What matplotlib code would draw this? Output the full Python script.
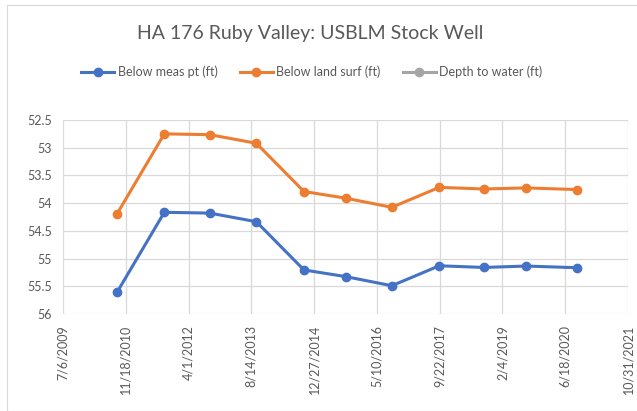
import datetime as dt
import matplotlib
matplotlib.use("Agg")
import matplotlib.pyplot as plt
import matplotlib.dates as mdates
from matplotlib.patches import Rectangle

plt.rcParams['font.family'] = ['Lato', 'DejaVu Sans']

# measurement dates and water levels (ft)
dates = [dt.date(2010, 9, 9), dt.date(2011, 9, 21), dt.date(2012, 9, 18),
         dt.date(2013, 9, 23), dt.date(2014, 10, 7), dt.date(2015, 9, 4),
         dt.date(2016, 9, 6), dt.date(2017, 9, 19), dt.date(2018, 9, 9),
         dt.date(2019, 8, 12), dt.date(2020, 9, 16)]
below_meas_pt = [55.61, 54.165, 54.18, 54.335, 55.205, 55.325, 55.49,
                 55.13, 55.16, 55.135, 55.165]
below_land_surf = [54.195, 52.75, 52.765, 52.92, 53.79, 53.91, 54.075,
                   53.715, 53.745, 53.725, 53.755]
depth_to_water = []

y_ticks = [52.5, 53, 53.5, 54, 54.5, 55, 55.5, 56]
x_start = dt.date(2009, 7, 6)
x_step = 500
n_steps = 9

blue = '#4472C4'
orange = '#ED7D31'
gray = '#A5A5A5'
text_c = '#595959'
grid_c = '#D9D9D9'

fig = plt.figure(figsize=(6.37, 4.11), dpi=100)
fig.patches.append(Rectangle((7 / 637, 0), 1, 1 - 5 / 411, transform=fig.transFigure,
                             fill=False, edgecolor='#D9D9D9', linewidth=0.8))

ax = fig.add_axes([63 / 637, 1 - 314 / 411, 565 / 637, 194 / 411])

ax.plot(dates, below_meas_pt, color=blue, lw=2.2, marker='o', ms=6,
        label='Below meas pt (ft)')
ax.plot(dates, below_land_surf, color=orange, lw=2.2, marker='o', ms=6,
        label='Below land surf (ft)')
ax.plot(depth_to_water, depth_to_water, color=gray, lw=2.2, marker='o', ms=6,
        label='Depth to water (ft)')

x_ticks = [x_start + dt.timedelta(days=x_step * i) for i in range(n_steps + 1)]
ax.set_xlim(mdates.date2num(x_ticks[0]), mdates.date2num(x_ticks[-1]))
ax.set_xticks(mdates.date2num(x_ticks))
ax.set_xticklabels([f"{d.month}/{d.day}/{d.year}" for d in x_ticks], rotation=90,
                   fontsize=9, color=text_c)

ax.set_ylim(56, 52.5)
ax.set_yticks(y_ticks)
ax.set_yticklabels([f"{v:g}" for v in y_ticks], fontsize=9, color=text_c)

ax.grid(True, color=grid_c, lw=0.9)
ax.set_axisbelow(True)
for s in ax.spines.values():
    s.set_visible(False)
ax.tick_params(length=0, pad=8)

fig.text(310 / 637, 1 - 33 / 411, 'HA 176 Ruby Valley: USBLM Stock Well',
         ha='center', va='center', fontsize=14, color=text_c)

fig.legend(loc='center', bbox_to_anchor=(312 / 637, 1 - 72 / 411), ncol=3,
           frameon=False, fontsize=9, labelcolor=text_c, handlelength=2.6,
           handletextpad=0.3, columnspacing=1.8)

fig.savefig('out.png', dpi=100)
